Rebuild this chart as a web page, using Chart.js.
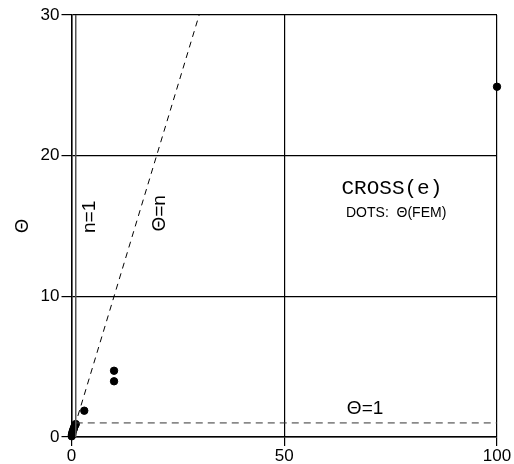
<!DOCTYPE html>
<html>
<head>
<meta charset="utf-8">
<script src="https://cdn.jsdelivr.net/npm/chart.js@4/dist/chart.umd.min.js"></script>
<style>
  html, body { margin: 0; padding: 0; background: #fff; }
  #wrap { width: 514px; height: 464px; }
</style>
</head>
<body>
<div id="wrap"><canvas id="chart" width="514" height="464"></canvas></div>
<script>
// FEM dots
const dotsN = [0.05, 0.1, 0.15, 0.2, 0.3, 0.4, 0.5, 0.6, 0.7, 0.85, 1, 3, 10, 10, 100];
const dotsTheta = [0.05, 0.15, 0.2, 0.3, 0.4, 0.5, 0.55, 0.65, 0.75, 0.85, 0.92, 1.87, 3.96, 4.71, 24.9];

// reference lines
const diagN = [0, 30];
const diagTheta = [0, 30];
const oneN = [1, 100];
const oneTheta = [1, 1];
const vertN = [1, 1];
const vertTheta = [0, 30];

const xTicks = [0, 50, 100];
const yTicks = [0, 10, 20, 30];

const toPts = (xs, ys) => xs.map((x, i) => ({ x: x, y: ys[i] }));

const tickFont = { family: 'Liberation Sans', size: 17 };

// free text on the plot, placed in data coordinates
const labels = [
    { text: 'CROSS(e)', x: 75.3, y: 17.7, font: '21px "Liberation Mono"', rot: 0 },
    { text: 'DOTS:  Θ(FEM)', x: 76.3, y: 15.9, font: '14px "Liberation Sans"', rot: 0 },
    { text: 'Θ=1', x: 69, y: 2.0, font: '19px "Liberation Sans"', rot: 0 },
    { text: 'n=1', x: 4.3, y: 15.65, font: '19px "Liberation Sans"', rot: -Math.PI / 2 },
    { text: 'Θ=n', x: 20.8, y: 15.9, font: '19px "Liberation Sans"', rot: -Math.PI / 2 }
];

const textPlugin = {
    id: 'texts',
    afterDatasetsDraw(chart) {
        const { ctx, scales, chartArea } = chart;
        ctx.save();
        ctx.fillStyle = '#000';
        ctx.textAlign = 'center';
        ctx.textBaseline = 'middle';
        labels.forEach(l => {
            ctx.save();
            ctx.translate(scales.x.getPixelForValue(l.x), scales.y.getPixelForValue(l.y));
            ctx.rotate(l.rot);
            ctx.font = l.font;
            ctx.fillText(l.text, 0, 0);
            ctx.restore();
        });
        // y axis title
        ctx.translate(chartArea.left - 48, scales.y.getPixelForValue(15));
        ctx.rotate(-Math.PI / 2);
        ctx.font = '18px "Liberation Sans"';
        ctx.fillText('Θ', 0, 0);
        ctx.restore();
    }
};

new Chart(document.getElementById('chart'), {
    type: 'scatter',
    data: {
        datasets: [
            {
                label: 'n=1',
                data: toPts(vertN, vertTheta),
                showLine: true,
                borderColor: '#555',
                borderWidth: 1.5,
                pointRadius: 0
            },
            {
                label: 'Θ=n',
                data: toPts(diagN, diagTheta),
                showLine: true,
                borderColor: '#000',
                borderWidth: 1,
                borderDash: [6, 5],
                pointRadius: 0
            },
            {
                label: 'Θ=1',
                data: toPts(oneN, oneTheta),
                showLine: true,
                borderColor: '#333',
                borderWidth: 1,
                borderDash: [7, 5],
                pointRadius: 0
            },
            {
                label: 'FEM',
                data: toPts(dotsN, dotsTheta),
                backgroundColor: '#000',
                borderColor: '#000',
                pointRadius: 3.7,
                pointHoverRadius: 3.7,
                clip: false
            }
        ]
    },
    options: {
        responsive: false,
        animation: false,
        events: [],
        layout: { padding: { left: 0, right: 17, top: 15, bottom: 0 } },
        plugins: { legend: { display: false }, tooltip: { enabled: false } },
        scales: {
            x: {
                type: 'linear',
                min: 0,
                max: 100,
                afterBuildTicks: s => { s.ticks = xTicks.map(v => ({ value: v })); },
                afterFit: s => { s.height = 27; },
                ticks: { color: '#000', font: tickFont, padding: 0, maxRotation: 0 },
                grid: { color: '#000', lineWidth: 1.2, tickLength: 9, tickColor: '#000' },
                border: { color: '#000', width: 1.5 }
            },
            y: {
                type: 'linear',
                min: 0,
                max: 30,
                afterBuildTicks: s => { s.ticks = yTicks.map(v => ({ value: v })); },
                afterFit: s => { s.width = 71.5; },
                ticks: { color: '#000', font: tickFont, padding: 2 },
                grid: { color: '#000', lineWidth: 1.2, tickLength: 10, tickColor: '#000' },
                border: { color: '#000', width: 1.5 }
            }
        }
    },
    plugins: [textPlugin]
});
</script>
</body>
</html>
